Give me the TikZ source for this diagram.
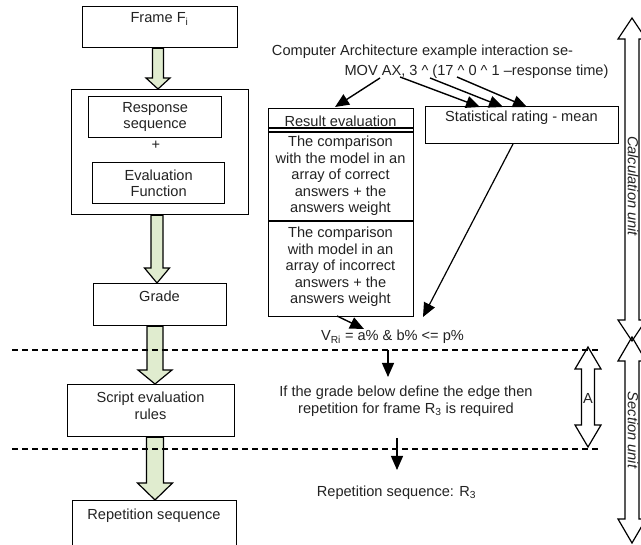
\documentclass[tikz,border=0pt]{standalone}
\usepackage{fontspec}
\setmainfont{Liberation Sans}
\usetikzlibrary{arrows.meta,calc}
\definecolor{gfill}{HTML}{E0ECCF}
\definecolor{txt}{HTML}{222222}
\newcommand\gblock[6]{%
  \path[garrowstyle] let \p1=(#2), \p2=(#3) in
    (#1pt-#4pt,\y1) -- (#1pt+#4pt,\y1) -- (#1pt+#4pt,\y2+#6pt) -- (#1pt+#5pt,\y2+#6pt)
    -- (#1pt,\y2) -- (#1pt-#5pt,\y2+#6pt) -- (#1pt-#4pt,\y2+#6pt) -- cycle;}
\newcommand\dblarrow[6]{%
  \draw[dblstyle] (#1,#2) -- ({#1+#5},{#2+#6}) -- ({#1+#4},{#2+#6}) -- ({#1+#4},{#3-#6})
    -- ({#1+#5},{#3-#6}) -- (#1,#3) -- ({#1-#5},{#3-#6}) -- ({#1-#4},{#3-#6})
    -- ({#1-#4},{#2+#6}) -- ({#1-#5},{#2+#6}) -- cycle;}
\begin{document}
\begin{tikzpicture}[x=1pt,y=-1pt,
  every node/.style={font=\fontsize{14.6}{16.6}\selectfont, inner sep=0pt, text=txt},
  box/.style={draw, line width=1.3pt, rectangle, anchor=north west, align=center},
  garrowstyle/.style={draw, line width=1.2pt, fill=gfill, line join=miter},
  dblstyle/.style={draw, line width=1.2pt, line join=miter},
  conn/.style={line width=1.4pt, -{Triangle[length=14pt,width=12pt]}},
  thin conn/.style={line width=1.2pt, -{Triangle[length=14pt,width=12pt]}},
  sep/.style={line width=1.2pt, dash pattern=on 6pt off 4pt},
  vlabel/.style={rotate=-90, font=\fontsize{14.6}{16.6}\selectfont\itshape}]
\useasboundingbox (0,0) rectangle (641,545);
\begin{scope}
\clip (0,0) rectangle (641,545);

% ---------- left column ----------
\node[box, minimum width=155pt, minimum height=41pt] (frame) at (82,6) {};
\node (frameT) at (159.5,19) {Frame F\textsubscript{i}};

\node[box, minimum width=177pt, minimum height=125pt] (big) at (71,89) {};
\node[box, minimum width=133pt, minimum height=41pt] (resp) at (88,96) {Response\\sequence};
\node (plus) at (156,145) {+};
\node[box, minimum width=132pt, minimum height=41pt] (evalf) at (92,162) {Evaluation\\Function};

\node[box, minimum width=133pt, minimum height=42pt] (grade) at (93,283) {};
\node (gradeT) at (159.5,296) {Grade};

\node[box, minimum width=167pt, minimum height=52pt] (script) at (67,384) {};
\node[align=center] (scriptT) at (150.5,406) {Script evaluation\\rules};

\node[box, minimum width=164pt, minimum height=60pt] (rep) at (72,500) {};
\node (repT) at (154,516) {Repetition sequence};

\gblock{158}{frame.south}{big.north}{5.5}{12}{11}
\gblock{157}{big.south}{grade.north}{6}{12.5}{15}
\gblock{155}{grade.south}{script.north}{8}{17}{14}
\gblock{155}{script.south}{rep.north}{8.5}{17.5}{17}

% ---------- separators ----------
\draw[sep] (12,350) coordinate (d1a) -- (600,350) coordinate (d1b);
\draw[sep] (12,449) coordinate (d2a) -- (600,449) coordinate (d2b);

% ---------- right column ----------
\node (title) at (422.5,52) {Computer Architecture example interaction se-};
\node (mov) at (476.5,72) {MOV AX, 3 \textasciicircum\ (17 \textasciicircum\ 0 \textasciicircum\ 1 –response time)};

\node[box, minimum width=145pt, minimum height=208pt] (result) at (268,108) {};
\draw[line width=1.3pt] (268,128) -- (413,128);
\draw[line width=1.3pt] (268,132) -- (413,132);
\draw[line width=1.3pt] (268,221) -- (413,221);
\node (resT) at (340.5,121) {Result evaluation};
\node[align=center] (corrT) at (340.5,176) {The comparison\\with the model in an\\array of correct\\answers + the\\answers weight};
\node[align=center] (incT) at (340.5,267) {The comparison\\with model in an\\array of incorrect\\answers + the\\answers weight};

\node[box, minimum width=193pt, minimum height=37pt] (stat) at (425,106) {};
\node (statT) at (521.5,118) {Statistical rating - mean};

\coordinate (m1) at (380,78);
\coordinate (m2) at (400,77);
\coordinate (m3) at (430,78);
\coordinate (m4) at (457,77);
\coordinate (r1) at (335,107);
\coordinate (s1) at (480,107);
\coordinate (s2) at (503,107);
\coordinate (s3) at (527,107);
\draw[conn] (m1) -- (r1);
\draw[conn] (m2) -- (s1);
\draw[conn] (m3) -- (s2);
\draw[conn] (m4) -- (s3);

\coordinate (st) at (513,144);
\coordinate (stend) at (423,317);
\draw[thin conn] (st) -- (stend);

\node (vri) at (392.5,337) {V\textsubscript{Ri} = a\% \& b\% <= p\%};
\coordinate (ri) at (337,316);
\coordinate (rv) at (364,329);
\draw[conn] (ri) -- (rv);

\coordinate (a1s) at (388,350);
\coordinate (a1e) at (388,377);
\draw[thin conn] (a1s) -- (a1e);

\node[align=center] (ifT) at (406,401.5) {If the grade below define the edge then\\repetition for frame R\textsubscript{3} is required};

\coordinate (a2s) at (397,438);
\coordinate (a2e) at (397,470);
\draw[thin conn] (a2s) -- (a2e);

\node (repseqT) at (396.5,493) {Repetition sequence: R\textsubscript{3}};

% ---------- dimension arrows ----------
\dblarrow{588}{347}{447}{6.5}{13}{22}
\node (A) at (588,398) {A};

\dblarrow{632}{18}{341}{7}{14}{21}
\dblarrow{632}{337}{543}{7}{14}{24}
\node[vlabel] (calc) at (633,186) {Calculation unit};
\node[vlabel] (sect) at (633,430) {Section unit};
\end{scope}
\end{tikzpicture}
\end{document}
